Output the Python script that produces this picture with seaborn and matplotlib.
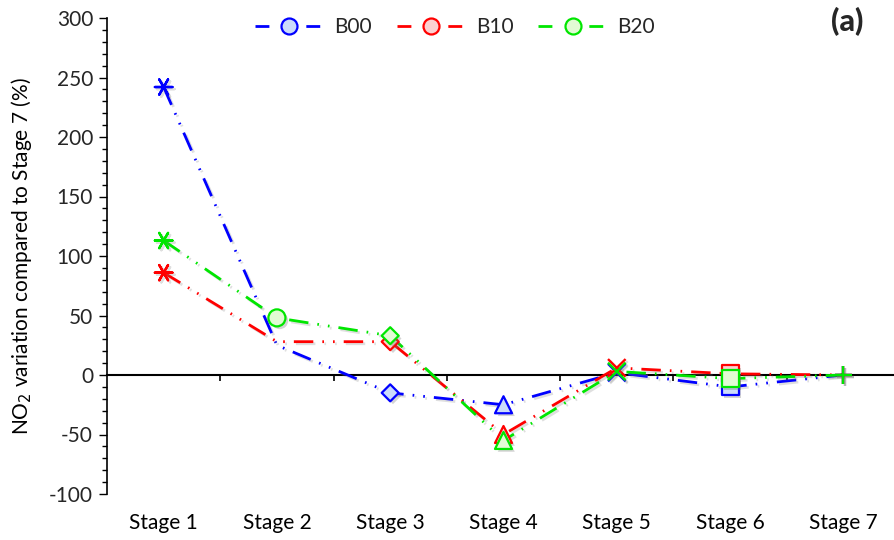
import matplotlib
matplotlib.use("Agg")
import matplotlib.pyplot as plt
from matplotlib.lines import Line2D
from matplotlib.path import Path
import matplotlib.patheffects as pe
import numpy as np
import pandas as pd
import seaborn as sns

# ---- data -------------------------------------------------------------
stages = ["Stage 1", "Stage 2", "Stage 3", "Stage 4", "Stage 5", "Stage 6", "Stage 7"]
series_names = ["B00", "B10", "B20"]
b00 = [242, 25, -15, -25, 2, -10, 0]
b10 = [86, 28, 28, -50, 6, 1, 0]
b20 = [113, 48, 33, -55, 3, -3, 0]
y_ticks = [-100, -50, 0, 50, 100, 150, 200, 250, 300]

line_colors = {"B00": "#0000ff", "B10": "#ff0000", "B20": "#00e600"}
face_colors = {"B00": "#cbdbfb", "B10": "#fcd0d0", "B20": "#e2fbd4"}
# points drawn without a marker
no_marker = {"B00": ["Stage 2"], "B10": ["Stage 2"], "B20": []}

# ---- styling -----------------------------------------------------------
sns.set_theme(style="white")
plt.rcParams["font.family"] = ["Lato", "DejaVu Sans"]
plt.rcParams["lines.scale_dashes"] = False
plt.rcParams["axes.unicode_minus"] = False

diamond = Path([(0, 1), (1, 0), (0, -1), (-1, 0), (0, 1)],
               [Path.MOVETO, Path.LINETO, Path.LINETO, Path.LINETO, Path.CLOSEPOLY])
stage_markers = {
    "Stage 1": (6, 2, 90),  # asterisk
    "Stage 2": "o",
    "Stage 3": diamond,
    "Stage 4": "^",
    "Stage 5": "x",
    "Stage 6": "s",
    "Stage 7": "+",
}
line_art = ["Stage 1", "Stage 5", "Stage 7"]
line_shadow = [pe.SimpleLineShadow(offset=(1.5, -1.5), shadow_color="0.5", alpha=0.25),
               pe.Normal()]
fill_shadow = [pe.SimplePatchShadow(offset=(2, -2), shadow_rgbFace="0.45", alpha=0.3),
               pe.Normal()]

frames = []
for name, vals in zip(series_names, [b00, b10, b20]):
    frames.append(pd.DataFrame({"stage": stages, "pos": np.arange(len(stages)),
                                "value": vals, "series": name}))
df = pd.concat(frames, ignore_index=True)

fig = plt.figure(figsize=(8.94, 5.40), dpi=100)
ax = fig.add_axes([107 / 894, 1 - 494 / 540, 793 / 894, 476 / 540])

# long dash - dot - dot pattern (points)
ldd = (14, 6.5, 1.2, 6.5, 1.2, 6.5)
sns.lineplot(data=df, x="pos", y="value", hue="series", style="series",
             palette=line_colors, dashes={n: ldd for n in series_names},
             linewidth=2, legend=False, ax=ax, zorder=3)
for ln in ax.get_lines():
    ln.set_dash_capstyle("butt")
    ln.set_path_effects(line_shadow)

for name in series_names:
    sub = df[(df["series"] == name) & (~df["stage"].isin(no_marker[name]))]
    filled = sub[~sub["stage"].isin(line_art)]
    art = sub[sub["stage"].isin(line_art)]
    n0 = len(ax.collections)
    sns.scatterplot(data=filled, x="pos", y="value", style="stage",
                    markers={s: stage_markers[s] for s in filled["stage"]},
                    color=face_colors[name], edgecolor=line_colors[name],
                    linewidth=1.6, s=150, legend=False, ax=ax, zorder=4)
    for coll in ax.collections[n0:]:
        coll.set_path_effects(fill_shadow)
    n0 = len(ax.collections)
    sns.scatterplot(data=art, x="pos", y="value", style="stage",
                    markers={s: stage_markers[s] for s in art["stage"]},
                    color=line_colors[name], linewidth=1.7, s=160,
                    legend=False, ax=ax, zorder=4)
    for coll in ax.collections[n0:]:
        coll.set_path_effects(line_shadow)

# ---- axes --------------------------------------------------------------
ax.set_xlim(-0.5, len(stages) - 0.5)
ax.set_ylim(-100, 300)
ax.set_yticks(y_ticks)
ax.set_yticks(np.arange(-100, 301, 10), minor=True)
ax.tick_params(axis="y", which="major", direction="out", length=6, width=1,
               color="black", labelsize=15, pad=4, left=True)
ax.tick_params(axis="y", which="minor", direction="out", length=3.5, width=1,
               color="black", left=True)

for side in ["top", "right"]:
    ax.spines[side].set_visible(False)
ax.spines["left"].set_color("black")
ax.spines["left"].set_linewidth(1.2)
# category axis crosses at zero, tick marks between categories
ax.spines["bottom"].set_position(("data", 0))
ax.spines["bottom"].set_color("black")
ax.spines["bottom"].set_linewidth(1.5)
ax.spines["bottom"].set_zorder(2)
ax.set_xticks(np.arange(len(stages)) + 0.5)
ax.set_xticklabels([])
ax.tick_params(axis="x", which="major", direction="out", length=4, width=1.2,
               color="black", bottom=True)
for i, lab in enumerate(stages):
    ax.text(i, -0.061, lab, transform=ax.get_xaxis_transform(),
            ha="center", va="center", fontsize=15, color="black")

ax.set_xlabel("")
ax.set_ylabel("NO$_2$ variation compared to Stage 7 (%)", fontsize=15,
              color="black", labelpad=11)
ax.grid(False)

fig.text(847 / 894, 1 - 22 / 540, "(a)", fontsize=22, fontweight="black",
         ha="center", va="center")

handles = [Line2D([], [], color=line_colors[n], linewidth=2,
                  linestyle=(0, (10, 26.6)), marker="o", markersize=11.5,
                  markerfacecolor=face_colors[n], markeredgecolor=line_colors[n],
                  markeredgewidth=1.6) for n in series_names]
fig.legend(handles, series_names, loc="center", bbox_to_anchor=(0.509, 1 - 27 / 540),
           ncol=3, frameon=False, fontsize=15, handlelength=3.3,
           handletextpad=0.5, columnspacing=1.2, numpoints=1)

fig.savefig("out.png", dpi=100)
